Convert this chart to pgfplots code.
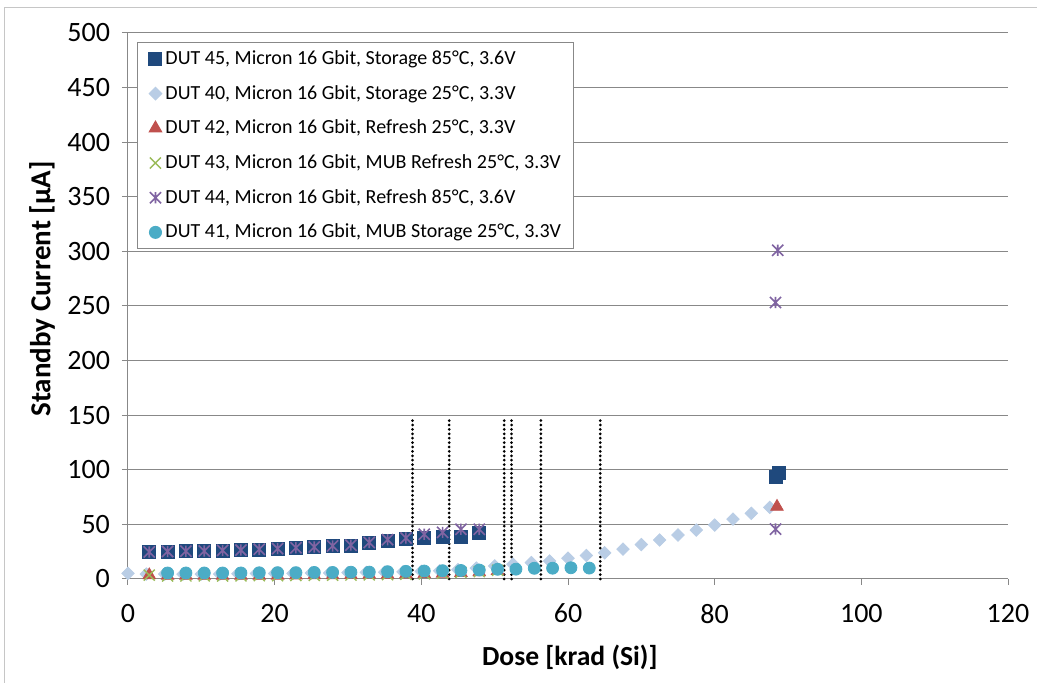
\documentclass[border=0pt]{standalone}
\usepackage{fontspec}
\setmainfont{Carlito}
\usepackage{pgfplots}
\pgfplotsset{compat=1.18}
\definecolor{cA}{HTML}{1F497D}
\definecolor{cB}{HTML}{B9CDE5}
\definecolor{cC}{HTML}{C0504D}
\definecolor{cD}{HTML}{9BBB59}
\definecolor{cE}{HTML}{8064A2}
\definecolor{cF}{HTML}{4BACC6}
\definecolor{gridc}{HTML}{888888}
\pgfdeclareplotmark{xstar}{%
 \pgfpathmoveto{\pgfqpoint{0pt}{\pgfplotmarksize}}%
 \pgfpathlineto{\pgfqpoint{0pt}{-\pgfplotmarksize}}%
 \pgfpathmoveto{\pgfqpoint{-\pgfplotmarksize}{-\pgfplotmarksize}}%
 \pgfpathlineto{\pgfqpoint{\pgfplotmarksize}{\pgfplotmarksize}}%
 \pgfpathmoveto{\pgfqpoint{-\pgfplotmarksize}{\pgfplotmarksize}}%
 \pgfpathlineto{\pgfqpoint{\pgfplotmarksize}{-\pgfplotmarksize}}%
 \pgfusepathqstroke}
\begin{document}
\begin{tikzpicture}
\begin{axis}[
 at={(0,0)}, anchor=south west,
 scale only axis, width=440pt, height=273pt,
 xmin=0, xmax=120, ymin=0, ymax=500,
 xtick={0,20,...,120}, ytick={0,50,...,500},
 axis lines*=left,
 axis line style={draw=gridc, line width=0.5pt},
 ymajorgrids, grid style={draw=gridc, line width=0.5pt},
 tick align=outside, major tick length=3pt,
 tick style={draw=gridc, line width=0.5pt},
 /pgf/number format/assume math mode=true,
 tick label style={font=\fontsize{14}{16}\selectfont},
 xticklabel style={yshift=-6pt},
 yticklabel style={xshift=-2.5pt},
 every axis x label/.style={at={(axis description cs:0.502,-0.143)}, anchor=center},
 every axis y label/.style={at={(axis description cs:-0.0977,0.531)}, rotate=90, anchor=center},
 xlabel style={font=\bfseries\fontsize{13.8}{16}\selectfont},
 ylabel style={font=\bfseries\fontsize{14.5}{16}\selectfont},
 xlabel={Dose [krad (Si)]},
 ylabel={Standby Current [µA]},
 clip=false,
 legend style={at={(axis description cs:0.0102,0.9835)}, anchor=north west,
   draw=gridc, line width=0.5pt, fill=white,
   font=\fontsize{10}{12}\selectfont,
   inner xsep=5pt, inner ysep=3pt, row sep=6.9pt,
   nodes={inner xsep=1pt, inner ysep=1pt}},
 legend cell align=left,
 legend image code/.code={\path[draw=none,fill=none] (-4pt,-4pt) rectangle (4pt,4pt); \draw[#1] plot coordinates {(0pt,0pt)};},
]
\addplot[only marks, mark=square*, mark size=3.25pt, color=cA] coordinates {
(2.9,24.5)(5.4,25)(7.9,25.3)(10.4,25.5)(12.9,26)(15.4,26.3)(17.9,27)(20.4,27.5)(22.9,28.3)(25.4,29)(27.9,30)(30.4,30.5)(32.9,33)(35.4,34.5)(37.9,36.3)(40.4,37.2)(42.9,38.2)(45.4,38.8)(47.9,41.8)(88.3,93.6)(88.8,97.3)};
\addlegendentry{DUT 45, Micron 16 Gbit, Storage 85°C, 3.6V}
\addplot[only marks, mark=square*, mark size=2.2pt, mark options={rotate=45}, color=cB] coordinates {
(0,5.2)(2.5,4.5)(5,4.5)(7.5,4.5)(10,4.5)(12.5,4.5)(15,4.8)(17.5,5)(20,5)(22.5,5.2)(25,5.5)(27.5,5.5)(30,5.8)(32.5,6)(35,6.2)(37.5,6.5)(40,7)(42.5,7.5)(45,8.5)(47.5,10)(50,12)(52.5,13.5)(55,15)(57.5,16.5)(60,19)(62.5,21.5)(65,24)(67.5,27.4)(70,31.5)(72.5,35.7)(75,40.3)(77.5,44.8)(80,49.4)(82.5,54.9)(85,60.1)(87.5,65.6)};
\addlegendentry{DUT 40, Micron 16 Gbit, Storage 25°C, 3.3V}
\addplot[only marks, mark=triangle*, mark size=3.6pt, color=cC] coordinates {
(2.9,3.5)(5.4,3)(7.9,3)(10.4,3)(12.9,3)(15.4,3)(17.9,3)(20.4,3.2)(22.9,3.3)(25.4,3.5)(27.9,3.5)(30.4,3.7)(32.9,4)(35.4,4)(37.9,4.3)(40.4,4.6)(42.9,5)(45.4,5.6)(47.9,6.3)(50.4,7.5)(88.5,66.2)};
\addlegendentry{DUT 42, Micron 16 Gbit, Refresh 25°C, 3.3V}
\addplot[only marks, mark=x, mark size=3.9pt, color=cD, mark options={line width=0.7pt}] coordinates {
(2.9,3.5)(5.4,2.8)(7.9,2.8)(10.4,2.8)(12.9,2.8)(15.4,2.9)(17.9,3)(20.4,3)(22.9,3.2)(25.4,3.3)(27.9,3.5)(30.4,3.6)(32.9,3.8)(35.4,4)(37.9,4.3)(40.4,4.8)(42.9,5.3)(45.4,6)(47.9,6.8)(50.4,8)};
\addlegendentry{DUT 43, Micron 16 Gbit, MUB Refresh 25°C, 3.3V}
\addplot[only marks, mark=xstar, mark size=2.8pt, color=cE, mark options={line width=0.8pt}] coordinates {
(2.9,24.8)(5.4,25.2)(7.9,25.5)(10.4,25.6)(12.9,26.2)(15.4,26.5)(17.9,27.2)(20.4,27.8)(22.9,28.6)(25.4,29.3)(27.9,30.3)(30.4,31)(32.9,33.5)(35.4,36)(37.9,37.5)(40.4,41)(42.9,42.7)(45.4,45.5)(47.9,45.5)(88.3,45.7)(88.3,253.2)(88.6,301)};
\addlegendentry{DUT 44, Micron 16 Gbit, Refresh 85°C, 3.6V}
\addplot[only marks, mark=*, mark size=3pt, color=cF] coordinates {
(5.4,5.5)(7.9,5.5)(10.4,5.5)(12.9,5.5)(15.4,5.5)(17.9,5.7)(20.4,5.8)(22.9,5.8)(25.4,6)(27.9,6)(30.4,6.2)(32.9,6.3)(35.4,6.7)(37.9,7)(40.4,7.3)(42.9,7.6)(45.4,7.8)(47.9,8.2)(50.4,8.9)(52.9,9)(55.4,9.8)(57.9,9.9)(60.4,10.3)(62.9,10)};
\addlegendentry{DUT 41, Micron 16 Gbit, MUB Storage 25°C, 3.3V}
\addplot[forget plot, black, line width=1.5pt, dash pattern=on 0pt off 2.2pt, line cap=round] coordinates {(38.8,0) (38.8,146)};
\addplot[forget plot, black, line width=1.5pt, dash pattern=on 0pt off 2.2pt, line cap=round] coordinates {(43.8,0) (43.8,146)};
\addplot[forget plot, black, line width=1.5pt, dash pattern=on 0pt off 2.2pt, line cap=round] coordinates {(51.3,0) (51.3,146)};
\addplot[forget plot, black, line width=1.5pt, dash pattern=on 0pt off 2.2pt, line cap=round] coordinates {(52.3,0) (52.3,146)};
\addplot[forget plot, black, line width=1.5pt, dash pattern=on 0pt off 2.2pt, line cap=round] coordinates {(56.3,0) (56.3,146)};
\addplot[forget plot, black, line width=1.5pt, dash pattern=on 0pt off 2.2pt, line cap=round] coordinates {(64.4,0) (64.4,146)};
\end{axis}
\draw[gray!45, line width=0.5pt] (-61.5pt,-52pt) -- (-61.5pt,285.5pt) -- (454.5pt,285.5pt);
\pgfresetboundingbox
\path (-64pt,-52pt) rectangle (454.5pt,289.5pt);
\end{tikzpicture}
\end{document}
